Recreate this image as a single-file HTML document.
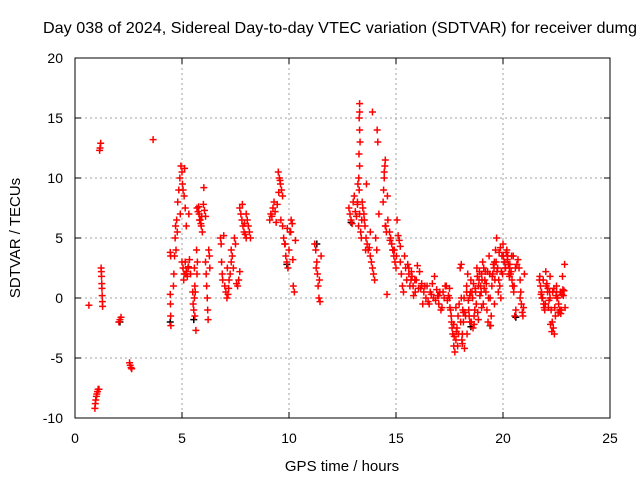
<!DOCTYPE html>
<html><head><meta charset="utf-8"><style>
body{margin:0;background:#fff}
svg{display:block;font-family:"Liberation Sans",sans-serif}
</style></head><body>
<svg id="chart" width="640" height="480">
<rect x="0" y="0" width="640" height="480" fill="#fff"/>
<text x="43" y="33" font-size="16" textLength="594" lengthAdjust="spacingAndGlyphs">Day 038 of 2024, Sidereal Day-to-day VTEC variation (SDTVAR) for receiver dumg</text>
<g id="grid"></g>
<g id="marksB"></g>
<g id="marks"></g>
<rect x="75" y="58" width="535" height="360" fill="none" stroke="#000" stroke-width="1"/>
<g id="ticks"></g>
<text x="342" y="471" font-size="15" text-anchor="middle">GPS time / hours</text>
<text transform="translate(20,238) rotate(-90)" font-size="15" text-anchor="middle">SDTVAR / TECUs</text>
</svg>
<script>
const xTicks=[0,5,10,15,20,25];
const yTicks=[-10,-5,0,5,10,15,20];
const hours=[
0.65,
0.93,0.95,0.97,1.0,1.02,1.05,1.08,1.12,
1.15,1.17,1.2,
1.22,1.23,1.24,1.25,1.26,1.27,1.28,1.29,
2.05,2.1,2.15,
2.55,2.58,2.62,2.65,
3.65,
4.45,4.47,4.45,4.46,4.47,4.48,
4.6,4.62,4.65,4.68,4.7,4.72,4.75,4.78,
4.8,4.85,4.9,4.95,5.0,5.05,5.1,5.15,5.2,5.12,4.92,5.02,
5.0,5.05,5.1,5.15,5.2,5.25,5.3,5.35,5.4,
5.5,5.52,5.55,5.58,5.6,5.62,5.65,5.6,5.7,5.72,5.68,5.58,
5.7,5.75,5.8,5.85,5.9,5.95,6.0,6.05,6.1,5.78,5.88,
6.1,6.13,6.15,6.18,6.2,6.22,6.25,6.28,6.3,
6.8,6.83,6.85,6.88,6.9,6.95,
7.0,7.05,7.1,7.15,7.2,7.25,7.3,7.12,7.18,
7.3,7.35,7.4,7.45,7.5,7.55,7.6,7.65,7.7,
7.7,7.75,7.8,7.85,7.9,7.95,8.0,7.82,7.92,
8.0,8.05,8.1,8.15,8.2,
9.1,9.15,9.2,9.25,9.3,9.35,9.4,9.45,
9.5,9.55,9.6,9.65,9.7,9.58,
9.7,9.75,9.8,9.85,9.9,9.95,10.0,10.05,10.1,10.15,10.2,10.25,10.3,10.18,
11.2,11.25,11.3,11.33,11.36,11.4,11.45,11.5,11.27,11.42,
12.8,12.85,12.9,12.95,13.0,13.05,13.1,13.15,13.2,
13.3,13.3,13.28,13.3,13.32,13.27,13.3,13.26,13.28,13.3,13.25,13.35,13.38,13.4,13.42,13.45,13.22,13.2,
13.5,13.55,13.6,13.65,13.7,13.75,13.8,13.58,
13.8,13.85,13.9,13.95,14.0,14.05,14.1,13.9,
14.12,14.15,14.2,
14.4,14.42,14.45,14.48,14.5,14.52,14.55,14.58,14.6,14.45,14.5,
14.7,14.75,14.8,14.85,14.9,14.95,15.0,15.05,15.1,15.15,15.2,14.85,
15.2,15.25,15.3,15.35,15.4,15.45,15.5,15.55,15.6,
15.6,15.7,15.8,15.9,16.0,16.1,16.2,15.75,15.95,
16.2,16.3,16.4,16.5,16.6,16.7,16.8,16.9,17.0,16.45,16.75,
17.0,17.1,17.2,17.3,17.4,17.5,17.15,17.35,
17.5,17.55,17.6,17.65,17.7,17.75,17.8,17.85,17.9,17.95,18.0,18.05,18.1,18.15,18.2,18.25,18.3,18.1,18.15,17.7,17.8,18.05,
18.3,18.35,18.4,18.45,18.5,18.55,18.6,18.65,18.7,18.75,18.8,18.85,18.9,18.95,19.0,18.45,18.65,18.85,
19.0,19.05,19.1,19.15,19.2,19.25,19.3,19.35,19.4,19.45,19.5,19.55,19.6,19.12,19.28,19.42,19.52,
19.6,19.65,19.7,19.75,19.8,19.85,19.9,19.95,20.0,20.05,20.1,20.15,20.2,20.25,20.3,19.72,19.88,20.08,
20.3,20.35,20.4,20.45,20.5,20.55,20.6,20.65,20.7,20.75,20.8,20.42,20.58,
20.8,20.83,20.86,20.9,20.93,20.96,21.0,
21.7,21.75,21.8,21.85,21.9,21.95,22.0,22.05,22.1,22.15,22.2,21.78,21.92,22.08,
22.2,22.25,22.3,22.35,22.4,22.45,22.5,22.28,22.38,
22.5,22.55,22.6,22.65,22.7,22.75,22.8,22.85,22.9,22.62,22.78,
15.65,15.72,15.82,15.88,16.05,16.15,16.25,16.35,16.55,16.65,16.85,16.95,17.05,17.25,17.45,
17.52,17.58,17.62,17.72,17.82,17.88,17.92,18.02,18.08,18.12,18.18,18.22,
18.32,18.38,18.42,18.48,18.52,18.58,18.62,18.68,18.72,18.78,18.82,18.88,18.92,18.98,
19.02,19.08,19.18,19.22,19.32,19.38,19.48,19.58,19.62,19.68,19.78,19.82,19.92,19.98,
20.02,20.12,20.18,20.22,20.28,20.32,20.38,20.48,20.52,
21.72,21.82,21.88,21.98,22.02,22.12,22.18,22.22,22.32,22.42,22.48,22.52,22.58,22.68,22.72,22.82,22.88,
5.08,5.18,5.28,5.32,5.82,5.92,6.02,9.52,9.62,9.82,9.92,10.08,13.52,13.62,14.62,14.72,14.92,15.02,15.12
];
const tecu=[
-0.6,
-9.2,-8.8,-8.5,-8.2,-8.0,-7.8,-7.6,-7.6,
12.3,12.5,12.9,
2.5,2.2,1.8,1.2,0.8,0.2,-0.3,-0.7,
-2.0,-1.8,-1.6,
-5.4,-5.6,-5.8,-5.9,
13.2,
3.8,3.5,0.3,-0.5,-1.5,-2.3,
1.0,2.0,3.5,5.0,6.0,4.0,6.5,5.5,
8.0,9.0,10.0,11.0,10.5,9.0,8.5,7.5,6.0,10.8,7.0,9.5,
3.0,2.5,2.0,3.0,2.2,1.8,2.6,3.2,2.0,
0.5,-0.5,-1.0,0.0,1.0,0.5,-2.7,-1.5,2.0,3.0,4.0,2.5,
7.5,7.2,7.0,6.5,6.0,5.5,7.8,7.3,6.8,7.6,6.2,
3.0,2.0,1.0,0.0,-1.0,-1.8,4.0,3.5,2.5,
5.0,4.5,3.0,2.0,1.5,5.2,
1.0,0.5,0.0,0.3,1.5,2.0,3.0,2.5,0.8,
4.0,3.5,2.5,5.0,4.5,1.2,1.0,1.5,2.2,
7.5,7.0,6.5,6.0,5.5,5.3,5.0,7.8,6.2,
7.0,6.5,6.0,5.5,5.0,
6.5,7.0,6.8,7.5,8.0,7.2,6.3,7.8,
10.5,10.0,9.5,9.0,8.5,9.8,
6.0,5.0,4.5,3.5,3.0,2.5,4.0,5.5,6.5,6.2,1.0,0.5,4.8,3.2,
4.5,4.0,3.0,2.0,1.0,0.0,-0.3,3.5,2.5,1.5,
7.5,7.0,6.5,6.2,8.0,8.5,7.2,6.8,7.8,
16.2,15.5,15.0,14.0,13.0,12.0,11.0,10.0,9.0,7.0,6.0,5.5,5.0,6.5,8.0,7.5,9.5,
8.0,7.0,6.0,5.0,4.5,4.0,4.2,5.5,
4.0,3.5,3.0,2.5,2.0,1.5,5.0,4.0,
15.5,14.0,13.0,
7.0,8.0,9.0,10.0,11.0,11.5,6.0,5.5,0.3,8.5,10.5,
6.0,5.5,5.0,4.5,4.0,3.5,3.0,2.5,6.5,5.2,4.8,4.3,
4.0,3.0,2.0,1.0,0.5,3.5,2.5,1.5,2.8,
2.5,2.0,1.5,1.0,0.5,2.7,2.2,1.2,1.8,
1.5,1.0,0.5,0.0,-0.3,0.5,1.2,1.8,0.7,0.2,1.0,
0.0,-0.5,-1.0,0.5,1.0,-0.2,0.8,-0.8,
1.0,0.0,-1.0,-2.0,-3.0,-4.0,-4.5,-3.5,-2.5,-1.5,-0.5,2.5,2.8,-3.8,-2.0,-4.2,-1.5,0.5,-3.0,-1.2,-2.2,-0.8,
0.0,1.0,2.0,-1.0,-2.0,1.5,0.5,-2.5,-1.5,0.8,-0.5,1.8,-1.8,2.2,1.0,-0.8,0.2,-2.2,
1.0,2.0,3.0,2.5,1.5,0.5,-1.0,-2.0,3.5,0.0,-1.5,1.8,2.8,-0.5,0.8,2.2,-2.3,
2.0,3.0,4.0,5.0,2.5,1.5,1.0,0.0,3.5,4.5,3.0,2.5,3.8,3.2,2.8,1.8,2.2,4.2,
3.0,2.5,2.0,3.5,1.0,0.5,-1.5,-1.0,2.8,3.2,2.5,0.0,1.5,
2.5,1.5,0.5,-0.5,-1.2,-1.5,-0.8,
2.0,1.5,1.0,0.5,0.0,-0.5,-1.0,2.2,1.2,0.8,-0.2,1.8,0.3,-0.8,
0.5,0.0,-1.0,-2.0,-2.5,-3.0,-1.5,1.0,-2.8,
0.8,0.5,0.0,-0.5,-1.0,-1.3,0.3,0.7,0.6,-0.8,-1.2,
1.8,1.0,2.2,0.2,1.5,0.8,0.8,-0.5,1.0,-0.5,0.3,-0.2,0.2,0.5,0.0,
0.2,-0.8,-1.5,-2.5,-3.2,-2.8,-4.0,-3.0,-2.0,-3.5,-1.0,0.0,
-1.2,-3.0,-0.2,-1.5,0.5,-2.0,0.0,1.2,-1.0,0.5,2.5,-1.2,1.5,0.2,
0.5,1.5,-0.5,2.2,1.2,0.0,2.0,1.0,2.5,1.5,3.0,0.5,3.8,2.2,
2.0,3.5,2.5,4.0,3.5,2.0,2.8,2.2,3.5,
1.0,1.8,0.0,1.5,-0.5,1.0,-0.8,0.5,-2.2,0.5,-0.8,0.2,0.0,-1.2,0.5,-1.0,0.2,
2.8,1.5,2.0,2.5,7.0,6.5,6.8,9.2,8.8,6.5,4.5,5.8,5.5,6.5,9.5,6.5,4.8,4.0,3.5
];
const blackHours=[4.45,5.55,9.9,11.3,12.9,18.5,19.4,20.6,2.1];
const blackTecu=[-2.0,-1.8,2.8,4.5,6.3,-2.4,-2.3,-1.6,-2.0];

const NS='http://www.w3.org/2000/svg';
const X0=75,X1=610,Y0=418,Y1=58;
function xs(t){return X0+(t-0)/(25-0)*(X1-X0);}
function ys(v){return Y0-(v-(-10))/(20-(-10))*(Y0-Y1);}
const grid=document.getElementById('grid'),ticks=document.getElementById('ticks');
function mk(tag,attrs,parent){const e=document.createElementNS(NS,tag);for(const k in attrs)e.setAttribute(k,attrs[k]);parent.appendChild(e);return e;}
xTicks.forEach(t=>{
  const x=xs(t);
  if(t>0&&t<25){const g=mk('line',{x1:x,x2:x,y1:Y1,y2:Y0,stroke:'#a0a0a0','stroke-dasharray':'2,3'},grid);
  
  }
  const tk=mk('path',{d:`M${x},${Y0}v-6M${x},${Y1}v6`,stroke:'#000'},ticks);
  
  
  const l=mk('text',{x:x,y:443,'font-size':14,'text-anchor':'middle'},ticks);l.textContent=t;
  
  
});
yTicks.forEach(v=>{
  const y=ys(v);
  if(v>-10&&v<20){const g=mk('line',{x1:X0,x2:X1,y1:y,y2:y,stroke:'#a0a0a0','stroke-dasharray':'2,3'},grid);
  
  }
  const tk=mk('path',{d:`M${X0},${y}h6M${X1},${y}h-6`,stroke:'#000'},ticks);
  
  
  const l=mk('text',{x:63,y:y+5,'font-size':14,'text-anchor':'end'},ticks);l.textContent=v;
  
  
});
function plus(g,t,v,color){
  const x=xs(t),y=ys(v);
  const p=mk('path',{d:`M${x-3.5},${y}h7M${x},${y-3.5}v7`,stroke:color,'stroke-width':1.5},g);
  
  
}
const gB=document.getElementById('marksB'),gR=document.getElementById('marks');
blackHours.forEach((t,i)=>plus(gB,t,blackTecu[i],'#000'));
hours.forEach((t,i)=>plus(gR,t,tecu[i],'#f00'));
</script>
</body></html>
